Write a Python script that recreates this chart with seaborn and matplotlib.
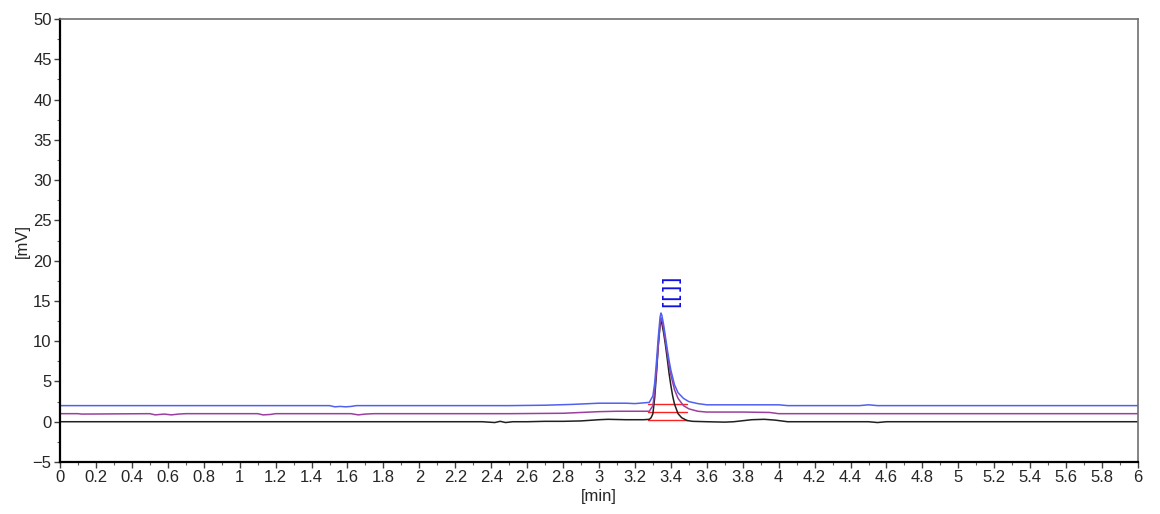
import numpy as np
import pandas as pd
import matplotlib
matplotlib.use("Agg")
import matplotlib.pyplot as plt
from matplotlib.ticker import MultipleLocator
import seaborn as sns

# ---- data ----
black_t = [0.0, 0.5, 1.0, 1.5, 2.0, 2.35, 2.42, 2.45, 2.48, 2.52, 2.6, 2.7, 2.8, 2.9, 3.0, 3.05,
           3.15, 3.25, 3.28, 3.29, 3.30, 3.31, 3.32, 3.33, 3.34, 3.345, 3.35, 3.36, 3.37, 3.38,
           3.39, 3.40, 3.41, 3.42, 3.44, 3.46, 3.49, 3.52, 3.6, 3.7, 3.75, 3.85, 3.92, 3.98,
           4.05, 4.2, 4.5, 4.55, 4.6, 5.0, 5.5, 6.0]
black_v = [0.0, 0.0, 0.0, 0.0, 0.0, 0.0, -0.1, 0.05, -0.1, 0.0, 0.0, 0.05, 0.05, 0.1, 0.25, 0.3,
           0.25, 0.25, 0.3, 0.5, 1.0, 3.0, 6.0, 9.5, 12.0, 12.6, 12.2, 11.0, 9.5, 7.8,
           6.0, 4.5, 3.2, 2.2, 1.0, 0.5, 0.15, 0.05, 0.0, -0.05, 0.0, 0.25, 0.3, 0.2,
           0.0, 0.0, 0.0, -0.1, 0.0, 0.0, 0.0, 0.0]

purple_t = [0.0, 0.1, 0.12, 0.5, 0.53, 0.58, 0.62, 0.66, 0.7, 1.1, 1.13, 1.17, 1.2, 1.5, 1.62,
            1.66, 1.7, 1.75, 2.0, 2.5, 2.8, 2.9, 3.0, 3.1, 3.2, 3.28, 3.30, 3.31, 3.32, 3.33,
            3.34, 3.345, 3.35, 3.36, 3.37, 3.38, 3.39, 3.40, 3.42, 3.44, 3.47, 3.50, 3.55,
            3.6, 3.8, 3.95, 4.0, 4.5, 5.0, 6.0]
purple_v = [1.0, 1.0, 0.95, 1.0, 0.85, 0.95, 0.85, 0.95, 1.0, 1.0, 0.85, 0.9, 1.0, 1.0, 1.0,
            0.85, 0.95, 1.0, 1.0, 1.0, 1.05, 1.15, 1.25, 1.3, 1.3, 1.3, 2.0, 3.8, 6.5, 9.5,
            12.2, 12.9, 12.7, 11.5, 10.0, 8.5, 7.0, 5.8, 4.0, 2.9, 2.0, 1.6, 1.3,
            1.2, 1.2, 1.15, 1.0, 1.0, 1.0, 1.0]

blue_t = [0.0, 0.5, 1.0, 1.5, 1.53, 1.56, 1.59, 1.62, 1.65, 2.0, 2.5, 2.7, 2.85, 3.0, 3.15,
          3.2, 3.28, 3.30, 3.31, 3.32, 3.33, 3.34, 3.345, 3.35, 3.36, 3.37, 3.38, 3.39, 3.40,
          3.42, 3.44, 3.47, 3.50, 3.55, 3.6, 3.8, 4.0, 4.05, 4.45, 4.5, 4.55, 5.0, 5.5, 6.0]
blue_v = [2.0, 2.0, 2.0, 2.0, 1.85, 1.9, 1.85, 1.9, 2.0, 2.0, 2.0, 2.05, 2.15, 2.3, 2.3,
          2.25, 2.4, 3.2, 4.8, 7.5, 10.5, 13.0, 13.5, 13.2, 12.0, 10.5, 9.0, 7.6, 6.4,
          4.6, 3.6, 2.9, 2.5, 2.25, 2.1, 2.1, 2.1, 2.0, 2.0, 2.1, 2.0, 2.0, 2.0, 2.0]

# integration baselines (start, end, level) for each trace
base_start = [3.27, 3.27, 3.27]
base_end = [3.49, 3.49, 3.49]
base_level = [0.25, 1.25, 2.25]

# peak label marker
peak_label = "[[]]"
peak_label_t = 3.403
peak_label_v = 16.3

x_ticks = [round(0.2 * i, 1) for i in range(31)]
y_ticks = [-5, 0, 5, 10, 15, 20, 25, 30, 35, 40, 45, 50]

sns.set_theme(style="white")
plt.rcParams["font.family"] = ["Liberation Sans", "DejaVu Sans"]

fig = plt.figure(figsize=(11.6, 5.14), dpi=100)
ax = fig.add_axes([60 / 1160, 1 - 462 / 514, (1138 - 60) / 1160, (462 - 19) / 514])

df = pd.concat([
    pd.DataFrame({"t": black_t, "v": black_v, "s": "black"}),
    pd.DataFrame({"t": purple_t, "v": purple_v, "s": "purple"}),
    pd.DataFrame({"t": blue_t, "v": blue_v, "s": "blue"}),
])
colors = {"black": "#202020", "purple": "#9a3fa0", "blue": "#5060f0"}
for name in ["black", "purple", "blue"]:
    sub = df[df.s == name]
    sns.lineplot(data=sub, x="t", y="v", ax=ax, color=colors[name], lw=1.1,
                 estimator=None, sort=False, legend=False)

for s, e, lv in zip(base_start, base_end, base_level):
    ax.plot([s, e], [lv, lv], color="#ff2020", lw=1.0, zorder=1)

ax.text(peak_label_t, peak_label_v, peak_label, rotation=90, color="#1010e0",
        fontsize=15, ha="center", va="center", family="DejaVu Sans")

ax.set_xlim(0, 6)
ax.set_ylim(-5, 50)
ax.set_xticks(x_ticks)
ax.set_xticklabels([f"{v:g}" for v in x_ticks])
ax.set_yticks(y_ticks)
ax.xaxis.set_minor_locator(MultipleLocator(0.1))
ax.yaxis.set_minor_locator(MultipleLocator(2.5))
ax.tick_params(axis="both", which="major", direction="out", length=4, width=1,
               labelsize=12, color="#404040", pad=2, bottom=True, left=True)
ax.tick_params(axis="both", which="minor", direction="out", length=2.5, width=0.8,
               color="#606060", bottom=True, left=True)
ax.set_xlabel("[min]", fontsize=12, labelpad=3)
ax.set_ylabel("[mV]", fontsize=12, labelpad=2)

for side in ["left", "bottom"]:
    ax.spines[side].set_color("#000000")
    ax.spines[side].set_linewidth(1.6)
for side in ["top", "right"]:
    ax.spines[side].set_color("#707070")
    ax.spines[side].set_linewidth(1.2)
ax.grid(False)

fig.savefig("out.png", dpi=100)
